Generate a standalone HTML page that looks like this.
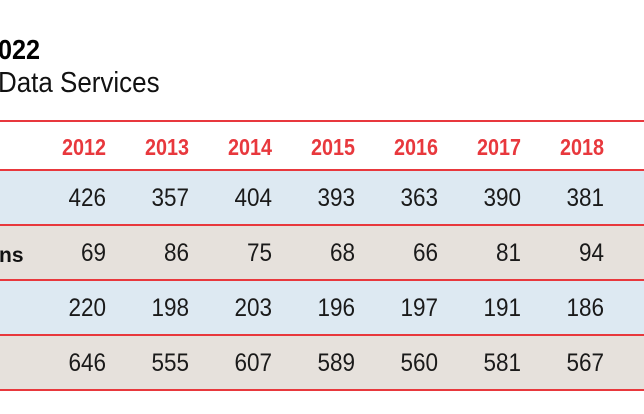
<!DOCTYPE html>
<html><head><meta charset="utf-8"><style>
body{margin:0;width:644px;height:414px;background:#fff;overflow:hidden;position:relative;font-family:"Liberation Sans",sans-serif;}
.t{position:absolute;white-space:nowrap;}
.row{position:absolute;left:0;width:644px;}
.line{position:absolute;left:0;width:644px;height:2px;background:#e8383d;}
.n{position:absolute;font-size:25px;color:#1a1a1a;text-align:right;width:80px;transform:scaleX(0.9);transform-origin:right center;}
.h{position:absolute;font-size:23px;font-weight:bold;color:#e8383d;text-align:right;width:80px;transform:scaleX(0.86);transform-origin:right center;}
</style></head><body>
<div class="t" style="left:-2px;top:34px;font-size:28px;font-weight:bold;color:#000;transform:scaleX(0.9);transform-origin:left;">022</div>
<div class="t" style="left:-2px;top:67px;font-size:29px;color:#111;transform:scaleX(0.895);transform-origin:left;">Data Services</div>
<div class="row" style="top:171px;height:54px;background:#dde9f2"></div>
<div class="row" style="top:226px;height:54px;background:#e6e1dc"></div>
<div class="row" style="top:281px;height:54px;background:#dde9f2"></div>
<div class="row" style="top:336px;height:54px;background:#e6e1dc"></div>
<div class="line" style="top:120px"></div>
<div class="line" style="top:169px"></div>
<div class="line" style="top:224px"></div>
<div class="line" style="top:279px"></div>
<div class="line" style="top:334px"></div>
<div class="line" style="top:389px"></div>
<div class="t" style="left:-1px;top:244px;font-size:21px;font-weight:bold;color:#111;">ns</div>
<div id="g"></div>
<script>
var xs=[106,189,272,355,438,521,604];
var yrs=["2012","2013","2014","2015","2016","2017","2018"];
var d=[["426","357","404","393","363","390","381"],["69","86","75","68","66","81","94"],["220","198","203","196","197","191","186"],["646","555","607","589","560","581","567"]];
var h="";
for(var i=0;i<7;i++){
h+='<div class="h" style="left:'+(xs[i]-80)+'px;top:134px">'+yrs[i]+'</div>';
for(var r=0;r<4;r++){h+='<div class="n" style="left:'+(xs[i]-80)+'px;top:'+(184+r*55)+'px">'+d[r][i]+'</div>';}
}
document.getElementById("g").innerHTML=h;
</script>
</body></html>
